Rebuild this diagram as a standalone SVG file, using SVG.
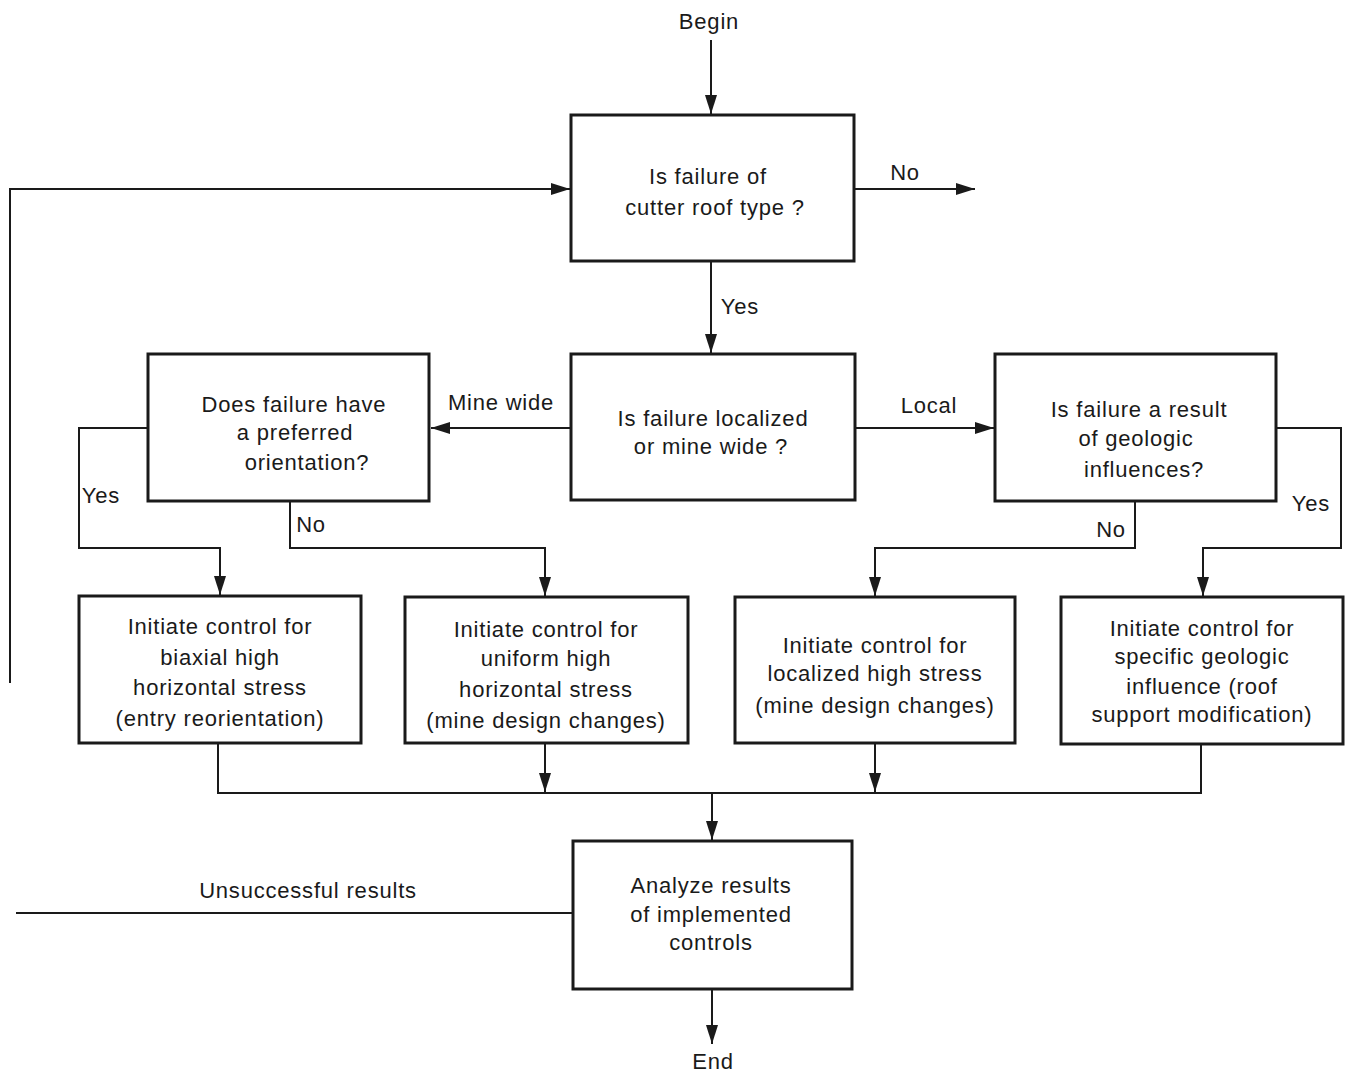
<svg xmlns="http://www.w3.org/2000/svg" width="1348" height="1074" viewBox="0 0 1348 1074">
<style>
  text { font-family: "Liberation Sans", Arial, sans-serif; font-size: 22px; fill: #1a1a1a; text-anchor: middle; letter-spacing: 0.8px; }
  .box { fill: #ffffff; stroke: #1a1a1a; stroke-width: 3; }
  .ln { fill: none; stroke: #1a1a1a; stroke-width: 2; }
  .arr { fill: none; stroke: #1a1a1a; stroke-width: 2; marker-end: url(#ah); }
</style>
<defs>
  <marker id="ah" markerUnits="userSpaceOnUse" markerWidth="20" markerHeight="12" refX="19" refY="6" orient="auto">
    <path d="M0,0 L19,6 L0,12 Z" fill="#1a1a1a"/>
  </marker>
</defs>
<rect width="1348" height="1074" fill="#ffffff"/>

<g id="connectors">
  <path class="arr" d="M711,40 V114"/>
  <path class="arr" d="M855,189 H975"/>
  <path class="arr" d="M10,683 V189 H570"/>
  <path class="arr" d="M711,261 V353"/>
  <path class="arr" d="M571,428 H431"/>
  <path class="arr" d="M855,428 H994"/>
  <path class="arr" d="M148,428 H79 V548 H220 V595"/>
  <path class="arr" d="M290,501 V548 H545 V596"/>
  <path class="arr" d="M1135,501 V548 H875 V596"/>
  <path class="arr" d="M1276,428 H1341 V548 H1203 V596"/>
  <path class="ln" d="M218,743 V793 H1201 V743"/>
  <path class="arr" d="M545,743 V792"/>
  <path class="arr" d="M875,743 V792"/>
  <path class="arr" d="M712,793 V840"/>
  <path class="ln" d="M16,913 H573"/>
  <path class="arr" d="M712,989 V1044"/>
  <text x="905" y="180">No</text>
  <text x="740" y="314">Yes</text>
  <text x="501" y="410">Mine wide</text>
  <text x="929" y="413">Local</text>
  <text x="101" y="503">Yes</text>
  <text x="311" y="532">No</text>
  <text x="1111" y="537">No</text>
  <text x="1311" y="511">Yes</text>
  <text x="308" y="898">Unsuccessful results</text>
</g>

<g id="begin"><text x="709" y="29">Begin</text></g>

<g id="q-cutter">
  <rect class="box" x="571" y="115" width="283" height="146"/>
  <text x="708" y="184">Is failure of</text>
  <text x="715" y="215">cutter roof type ?</text>
</g>

<g id="q-localized">
  <rect class="box" x="571" y="354" width="284" height="146"/>
  <text x="713" y="426">Is failure localized</text>
  <text x="711" y="454">or mine wide ?</text>
</g>

<g id="q-orientation">
  <rect class="box" x="148" y="354" width="281" height="147"/>
  <text x="294" y="412">Does failure have</text>
  <text x="295" y="440">a preferred</text>
  <text x="307" y="470">orientation?</text>
</g>

<g id="q-geologic">
  <rect class="box" x="995" y="354" width="281" height="147"/>
  <text x="1139" y="417">Is failure a result</text>
  <text x="1136" y="446">of geologic</text>
  <text x="1144" y="477">influences?</text>
</g>

<g id="c-biaxial">
  <rect class="box" x="79" y="596" width="282" height="147"/>
  <text x="220" y="634">Initiate control for</text>
  <text x="220" y="665">biaxial high</text>
  <text x="220" y="695">horizontal stress</text>
  <text x="220" y="726">(entry reorientation)</text>
</g>

<g id="c-uniform">
  <rect class="box" x="405" y="597" width="283" height="146"/>
  <text x="546" y="637">Initiate control for</text>
  <text x="546" y="666">uniform high</text>
  <text x="546" y="697">horizontal stress</text>
  <text x="546" y="728">(mine design changes)</text>
</g>

<g id="c-localized">
  <rect class="box" x="735" y="597" width="280" height="146"/>
  <text x="875" y="653">Initiate control for</text>
  <text x="875" y="681">localized high stress</text>
  <text x="875" y="713">(mine design changes)</text>
</g>

<g id="c-geologic">
  <rect class="box" x="1061" y="597" width="282" height="147"/>
  <text x="1202" y="636">Initiate control for</text>
  <text x="1202" y="664">specific geologic</text>
  <text x="1202" y="694">influence (roof</text>
  <text x="1202" y="722">support modification)</text>
</g>

<g id="analyze">
  <rect class="box" x="573" y="841" width="279" height="148"/>
  <text x="711" y="893">Analyze results</text>
  <text x="711" y="922">of implemented</text>
  <text x="711" y="950">controls</text>
</g>

<g id="end"><text x="713" y="1069">End</text></g>
</svg>
